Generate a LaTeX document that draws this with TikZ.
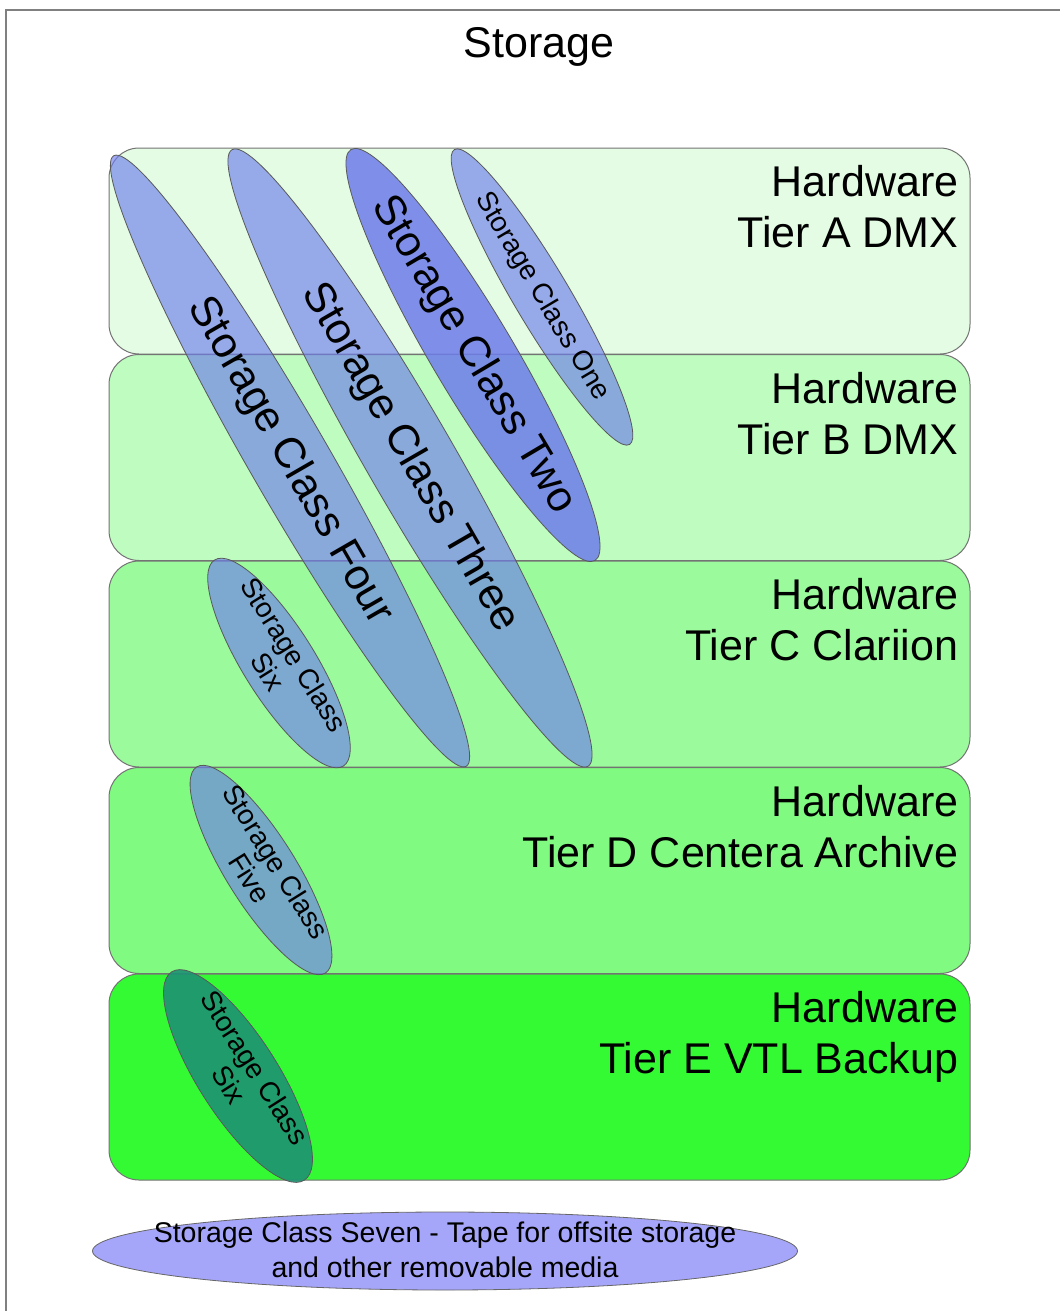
\documentclass[tikz,border=0pt]{standalone}
\usepackage{fontspec}
\setmainfont{Liberation Sans}
\usetikzlibrary{shapes.geometric}

\definecolor{tierA}{RGB}{227,252,227}
\definecolor{tierB}{RGB}{190,252,192}
\definecolor{tierC}{RGB}{155,250,155}
\definecolor{tierD}{RGB}{128,250,128}
\definecolor{tierE}{RGB}{52,250,52}
\definecolor{classblue}{RGB}{110,125,235}
\definecolor{classteal}{RGB}{30,145,115}
\definecolor{tapeblue}{RGB}{165,165,250}

\tikzset{
  tier/.style={draw=black!55, line width=1pt, rounded corners=30pt,
    minimum width=861pt, minimum height=206pt, inner sep=0pt},
  tierlabel/.style={anchor=north east, align=right, inner sep=0pt,
    font=\fontsize{43}{51}\selectfont},
  sclass/.style={ellipse, draw=black!65, line width=.8pt, fill=classblue,
    fill opacity=.65, inner sep=0pt},
  bigtext/.style={inner sep=0pt, align=center, font=\fontsize{43}{51}\selectfont},
  smalltext/.style={inner sep=0pt, align=center, font=\fontsize{28}{31}\selectfont}
}

\begin{document}
\begin{tikzpicture}[x=1pt, y=-1pt]
  \useasboundingbox (0,0) rectangle (1060,1311);
  \draw[black!50, line width=2pt] (6,1311) -- (6,10) -- (1060,10);

  \node[bigtext, anchor=base] (title) at (539,58) {Storage};

  % hardware tiers
  \node[tier, fill=tierA] (tierA) at (539.5,251) {};
  \node[tier, fill=tierB] (tierB) at (539.5,457.5) {};
  \node[tier, fill=tierC] (tierC) at (539.5,664) {};
  \node[tier, fill=tierD] (tierD) at (539.5,870.5) {};
  \node[tier, fill=tierE] (tierE) at (539.5,1077) {};

  \node[tierlabel] (labA) at ([xshift=-12pt, yshift=-18pt]tierA.north east) {Hardware\\Tier A DMX};
  \node[tierlabel] (labB) at ([xshift=-12pt, yshift=-18pt]tierB.north east) {Hardware\\Tier B DMX};
  \node[tierlabel] (labC) at ([xshift=-12pt, yshift=-18pt]tierC.north east) {Hardware\\Tier C Clariion};
  \node[tierlabel] (labD) at ([xshift=-12pt, yshift=-18pt]tierD.north east) {Hardware\\Tier D Centera Archive};
  \node[tierlabel] (labE) at ([xshift=-12pt, yshift=-18pt]tierE.north east) {Hardware\\Tier E VTL Backup};

  % storage classes
  \node[sclass, rotate=-60, minimum width=705pt, minimum height=80pt] (four) at (290,461) {};
  \node[sclass, rotate=-60, minimum width=712pt, minimum height=88pt] (three) at (410,458) {};
  \node[sclass, fill opacity=.85, rotate=-59.3, minimum width=478pt, minimum height=82pt] (two) at (473,355) {};
  \node[sclass, rotate=-59.3, minimum width=343pt, minimum height=56pt] (one) at (542,297) {};
  \node[sclass, rotate=-58, minimum width=243pt, minimum height=72pt] (sixC) at (279,663) {};
  \node[sclass, rotate=-58, minimum width=243pt, minimum height=70pt] (five) at (261,870) {};
  \node[sclass, fill=classteal, fill opacity=.9, rotate=-57.5, minimum width=247pt, minimum height=80pt] (sixE) at (238,1076) {};

  \node[bigtext, rotate=-60] (fourtext) at (four.center) {Storage Class Four};
  \node[bigtext, rotate=-60] (threetext) at (three.center) {Storage Class Three};
  \node[bigtext, rotate=-59.3] (twotext) at (two.center) {Storage Class Two};
  \node[smalltext, rotate=-59.3] (onetext) at (one.center) {Storage Class One};
  \node[smalltext, rotate=-58] (sixCtext) at ([xshift=2pt]sixC.center) {Storage Class\\Six};
  \node[smalltext, rotate=-58] (fivetext) at ([xshift=2pt]five.center) {Storage Class\\Five};
  \node[smalltext, rotate=-57.5] (sixEtext) at ([xshift=4pt]sixE.center) {Storage Class\\Six};

  \node[ellipse, draw=black!60, line width=.8pt, fill=tapeblue, inner sep=0pt,
    minimum width=705pt, minimum height=78pt] (seven) at (445,1251) {};
  \node[align=center, inner sep=0pt, font=\fontsize{28.5}{35}\selectfont]
    (seventext) at ([yshift=1pt]seven.center)
    {Storage Class Seven - Tape for offsite storage\\and other removable media};
\end{tikzpicture}
\end{document}
